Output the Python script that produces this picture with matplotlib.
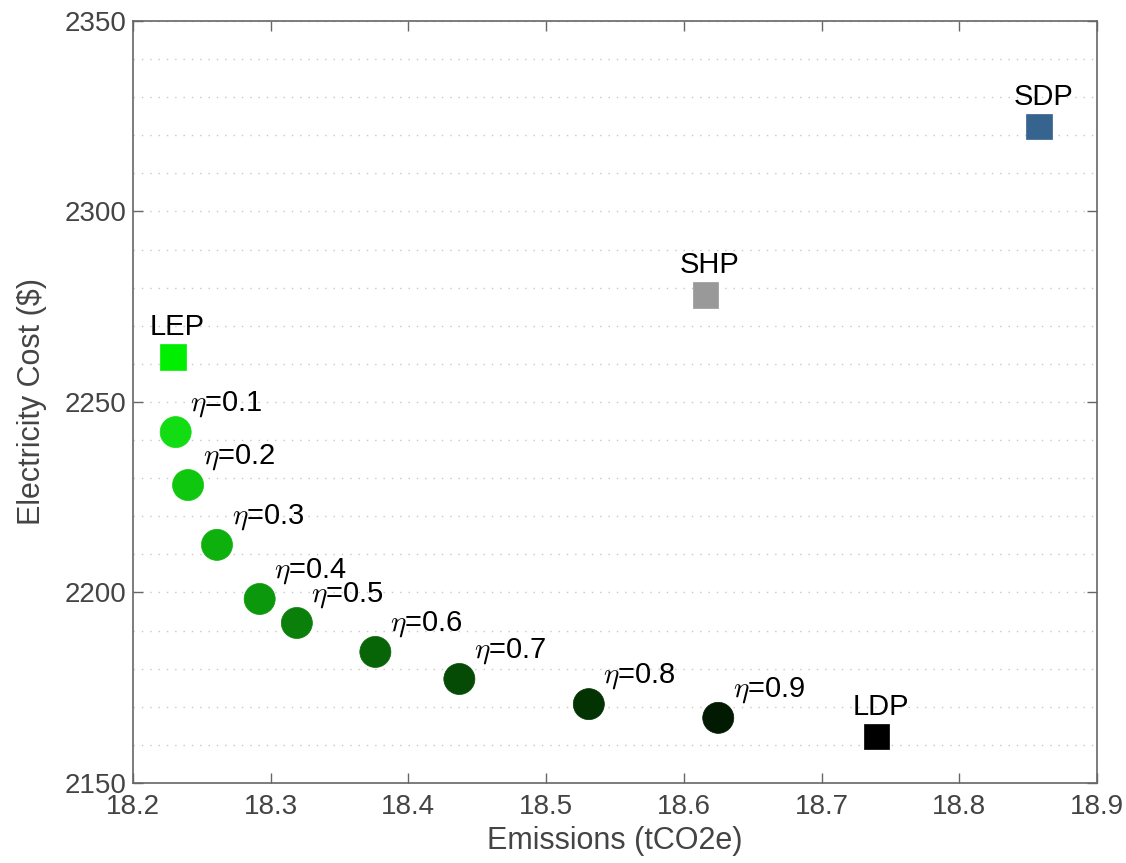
import matplotlib
matplotlib.use("Agg")
import matplotlib.pyplot as plt
from matplotlib.ticker import MultipleLocator

# puntos de la frontera (eta)
eta_labels = ["0.1", "0.2", "0.3", "0.4", "0.5", "0.6", "0.7", "0.8", "0.9"]
eta_emis = [18.231, 18.240, 18.261, 18.292, 18.319, 18.376, 18.437, 18.531, 18.625]
eta_cost = [2242.1, 2228.2, 2212.5, 2198.3, 2192.0, 2184.4, 2177.3, 2170.7, 2167.1]
eta_colors = ["#12dd12", "#10c710", "#0eb00e", "#0c980c", "#0a800a",
              "#076507", "#054b05", "#033203", "#011a01"]

# politicas de referencia
ref_names = ["LEP", "SHP", "SDP", "LDP"]
ref_emis = [18.229, 18.616, 18.858, 18.740]
ref_cost = [2261.8, 2278.1, 2322.4, 2162.3]
ref_colors = ["#00ee00", "#999999", "#36648f", "#000000"]

plt.rcParams["font.family"] = ["Liberation Sans", "DejaVu Sans"]
plt.rcParams["mathtext.fontset"] = "cm"

fig = plt.figure(figsize=(11.26, 8.63), dpi=100)
ax = fig.add_axes([0.1181, 0.0927, 0.8561, 0.8830])

ax.scatter(eta_emis, eta_cost, s=500, c=eta_colors, marker="o",
           edgecolors=eta_colors, linewidths=0.5, zorder=3)
for x, y, lab in zip(eta_emis, eta_cost, eta_labels):
    ax.annotate(r"$\eta$=" + lab, (x, y), xytext=(10.5, 15.5),
                textcoords="offset points", ha="left", va="baseline",
                fontsize=21, color="black")

ax.scatter(ref_emis, ref_cost, s=330, c=ref_colors, marker="s",
           edgecolors=ref_colors, linewidths=0.5, zorder=3)
for x, y, lab in zip(ref_emis, ref_cost, ref_names):
    ax.annotate(lab, (x, y), xytext=(3, 15.5), textcoords="offset points",
                ha="center", va="baseline", fontsize=21, color="black")

ax.set_xlim(18.2, 18.9)
ax.set_ylim(2150, 2350)
ax.xaxis.set_major_locator(MultipleLocator(0.1))
ax.yaxis.set_major_locator(MultipleLocator(50))
ax.yaxis.set_minor_locator(MultipleLocator(10))
ax.set_xticklabels([f"{v:.1f}" for v in ax.get_xticks()])

ax.grid(axis="y", which="both", color="#c8c8c8", linestyle=(0, (1, 5)),
        linewidth=1.0)
ax.set_axisbelow(True)

ax.tick_params(which="major", direction="in", length=7, width=1,
               top=True, right=True, colors="#666666", labelcolor="#444444",
               labelsize=20, pad=8)
ax.tick_params(axis="y", which="major", pad=5)
ax.tick_params(which="minor", length=0)
for sp in ax.spines.values():
    sp.set_color("#666666")
    sp.set_linewidth(1.2)

ax.set_xlabel("Emissions (tCO2e)", fontsize=22, color="#444444", labelpad=4)
ax.set_ylabel("Electricity Cost ($)", fontsize=22, color="#444444", labelpad=12)

fig.savefig("out.png", dpi=100)
